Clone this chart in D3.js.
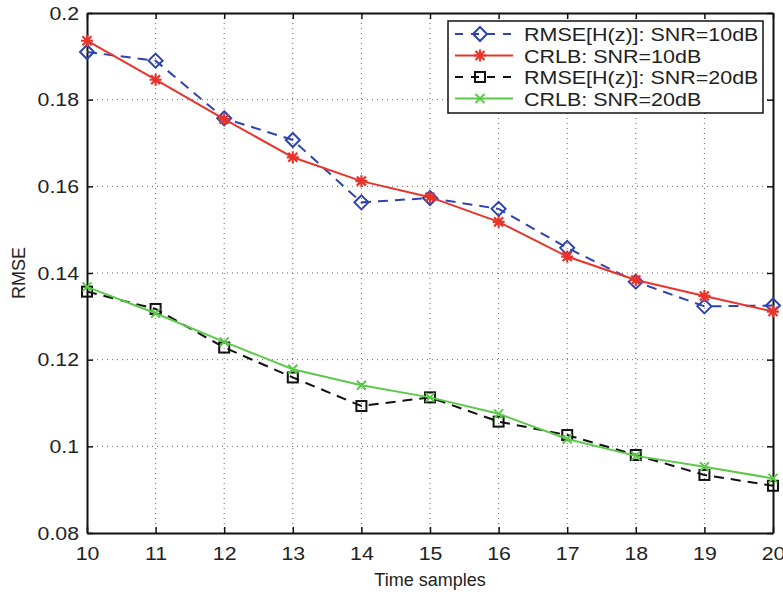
<!DOCTYPE html>
<html>
<head>
<meta charset="utf-8">
<script src="https://cdn.jsdelivr.net/npm/d3@7"></script>
<style>
  body { margin: 0; background: #fff; }
  text { font-family: 'Liberation Sans', Arial, Helvetica, sans-serif; fill: #222; }
</style>
</head>
<body>
<div id="chart"></div>
<script>
// time samples on x
let samples = [10, 11, 12, 13, 14, 15, 16, 17, 18, 19, 20]
let rmse10 = [0.191, 0.189, 0.1757, 0.1707, 0.1563, 0.1573, 0.1548, 0.1458, 0.138, 0.1323, 0.1325]
let crlb10 = [0.1936, 0.1846, 0.1755, 0.1667, 0.1612, 0.1575, 0.1518, 0.1438, 0.1384, 0.1347, 0.1311]
let rmse20 = [0.1357, 0.1317, 0.1228, 0.1159, 0.1093, 0.1113, 0.1057, 0.1026, 0.098, 0.0934, 0.0909]
let crlb20 = [0.1368, 0.1307, 0.1241, 0.1178, 0.1141, 0.1113, 0.1075, 0.1017, 0.0978, 0.0953, 0.0926]
let yTicks = [0.08, 0.1, 0.12, 0.14, 0.16, 0.18, 0.2]
let legendLabels = ['RMSE[H(z)]: SNR=10dB', 'CRLB: SNR=10dB', 'RMSE[H(z)]: SNR=20dB', 'CRLB: SNR=20dB']

let margin = { top: 13, left: 87, right: 10, bottom: 62 }
let width = 783 - margin.left - margin.right
let height = 595 - margin.top - margin.bottom

let svg = d3
  .select('#chart')
  .append('svg')
  .attr('width', 783)
  .attr('height', 595)
  .append('g')
  .attr('transform', 'translate(' + margin.left + ',' + margin.top + ')')

let xPositionScale = d3.scaleLinear().domain([10, 20]).range([0, width])
let yPositionScale = d3.scaleLinear().domain([0.08, 0.2]).range([height, 0])

// the original font is a bit wider than Liberation Sans
function stretch(sel, k) {
  sel.each(function () {
    let w = this.getComputedTextLength()
    d3.select(this).attr('textLength', w * k).attr('lengthAdjust', 'spacingAndGlyphs')
  })
}

// grid
svg.selectAll('.vgrid')
  .data(samples.slice(1, -1))
  .enter()
  .append('line')
  .attr('x1', d => xPositionScale(d))
  .attr('x2', d => xPositionScale(d))
  .attr('y1', 0)
  .attr('y2', height)
  .attr('stroke', '#666')
  .attr('stroke-width', 1)
  .attr('stroke-dasharray', '1,4')

svg.selectAll('.hgrid')
  .data(yTicks.slice(1, -1))
  .enter()
  .append('line')
  .attr('x1', 0)
  .attr('x2', width)
  .attr('y1', d => yPositionScale(d))
  .attr('y2', d => yPositionScale(d))
  .attr('stroke', '#666')
  .attr('stroke-width', 1)
  .attr('stroke-dasharray', '1,4')

// axes, ticks inward
let xAxis = d3.axisBottom(xPositionScale).tickValues(samples).tickFormat(d3.format('d')).tickSizeInner(-6).tickSizeOuter(0).tickPadding(14)
let yAxis = d3.axisLeft(yPositionScale).tickValues(yTicks).tickFormat(d => d3.format('')(+d.toFixed(2))).tickSizeInner(-6).tickSizeOuter(0).tickPadding(8)
let xTop = d3.axisTop(xPositionScale).tickValues(samples).tickFormat('').tickSizeInner(-6).tickSizeOuter(0)
let yRight = d3.axisRight(yPositionScale).tickValues(yTicks).tickFormat('').tickSizeInner(-6).tickSizeOuter(0)

svg.append('g').attr('transform', 'translate(0,' + height + ')').call(xAxis)
svg.append('g').call(yAxis)
svg.append('g').call(xTop)
svg.append('g').attr('transform', 'translate(' + width + ',0)').call(yRight)

svg.selectAll('.domain').attr('stroke', '#111').attr('stroke-width', 2)
svg.selectAll('.tick line').attr('stroke', '#111').attr('stroke-width', 1.5)
svg.selectAll('.tick text').attr('font-size', 19).attr('fill', '#222').call(stretch, 1.12)

// axis labels
svg.append('text')
  .attr('x', width / 2)
  .attr('y', height + 53)
  .attr('text-anchor', 'middle')
  .attr('font-size', 18)
  .text('Time samples')

svg.append('text')
  .attr('transform', 'translate(' + (-62) + ',' + height / 2 + ') rotate(-90)')
  .attr('text-anchor', 'middle')
  .attr('font-size', 18)
  .text('RMSE')

let series = [
  { values: rmse10, color: '#2d44b0', dash: '10,7', marker: 'diamond' },
  { values: crlb10, color: '#e8342b', dash: null, marker: 'star' },
  { values: rmse20, color: '#111', dash: '10,7', marker: 'square' },
  { values: crlb20, color: '#5cc94b', dash: null, marker: 'x' }
]

function drawMarker(g, type, color) {
  if (type === 'diamond') {
    g.append('path').attr('d', 'M0,-7L7,0L0,7L-7,0Z').attr('fill', 'none').attr('stroke', color).attr('stroke-width', 2)
  } else if (type === 'square') {
    g.append('rect').attr('x', -5).attr('y', -5).attr('width', 10).attr('height', 10).attr('fill', 'none').attr('stroke', color).attr('stroke-width', 2)
  } else if (type === 'star') {
    g.append('path').attr('d', 'M-6,0L6,0M0,-6L0,6M-4.5,-4.5L4.5,4.5M-4.5,4.5L4.5,-4.5').attr('stroke', color).attr('stroke-width', 2.2)
  } else {
    g.append('path').attr('d', 'M-4.5,-4.5L4.5,4.5M-4.5,4.5L4.5,-4.5').attr('stroke', color).attr('stroke-width', 2)
  }
}

let line = d3.line()
  .x((d, i) => xPositionScale(samples[i]))
  .y(d => yPositionScale(d))

series.forEach(s => {
  svg.append('path')
    .datum(s.values)
    .attr('d', line)
    .attr('fill', 'none')
    .attr('stroke', s.color)
    .attr('stroke-width', 2)
    .attr('stroke-dasharray', s.dash)

  s.values.forEach((v, i) => {
    let g = svg.append('g')
      .attr('transform', 'translate(' + xPositionScale(samples[i]) + ',' + yPositionScale(v) + ')')
    drawMarker(g, s.marker, s.color)
  })
})

// legend
let legend = svg.append('g').attr('transform', 'translate(' + (448 - margin.left) + ',' + (21 - margin.top) + ')')
legend.append('rect')
  .attr('width', 315)
  .attr('height', 92)
  .attr('fill', '#fff')
  .attr('stroke', '#111')
  .attr('stroke-width', 1.5)

series.forEach((s, i) => {
  let y = 13 + i * 21.5
  legend.append('line')
    .attr('x1', 7)
    .attr('x2', 65)
    .attr('y1', y)
    .attr('y2', y)
    .attr('stroke', s.color)
    .attr('stroke-width', 2)
    .attr('stroke-dasharray', s.dash ? '8,8' : null)
  let g = legend.append('g').attr('transform', 'translate(' + 32 + ',' + y + ')')
  drawMarker(g, s.marker, s.color)
  legend.append('text')
    .attr('x', 76)
    .attr('y', y + 7)
    .attr('font-size', 19)
    .text(legendLabels[i])
    .call(stretch, 1.13)
})
</script>
</body>
</html>
